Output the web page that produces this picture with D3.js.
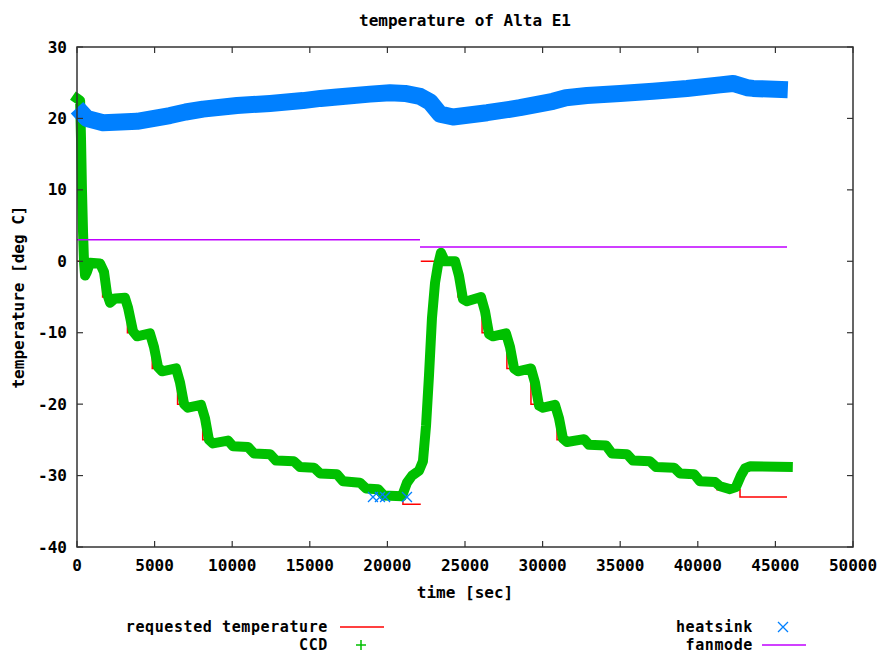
<!DOCTYPE html>
<html>
<head>
<meta charset="utf-8">
<script src="https://cdn.jsdelivr.net/npm/d3@7"></script>
<style>
  body { margin: 0; background: #fff; }
  text { font-family: "DejaVu Sans Mono", monospace; font-weight: bold; font-size: 16px; fill: #000; }
  .legend text { font-size: 15px; letter-spacing: 0.6px; }
</style>
</head>
<body>
<div id="chart"></div>
<script>
// requested temperature (step function, NaN breaks the line between runs)
const reqTime = [0, 1650, 3250, 4850, 6480, 8100, 9860, 11150, 12630, 14175, 15460, 16950, 18430, 19520, 21000, 22150,
                 NaN,
                 22150, 24550, 26100, 27700, 29250, 30930, 32860, 34340, 35630, 37110, 38660, 39950, 41240, 42720, 45750];
const reqTemp = [0, -5, -10, -15, -20, -25, -26, -27, -28, -29, -30, -31, -32, -33, -34, -34,
                 NaN,
                 0, -5, -10, -15, -20, -25, -26, -27, -28, -29, -30, -31, -32, -33, -33];

// CCD temperature
const ccdTime = [0, 200, 260, 320, 390, 450, 520, 640, 840, 1480, 1740, 1930, 2130, 2450, 3090, 3290, 3610, 3870,
                 4700, 4960, 5220, 5480, 6380, 6640, 6900, 7150, 7990, 8250, 8500, 8760, 9730, 10050, 11020, 11400,
                 12440, 12820, 13980, 14370, 15270, 15660, 16750, 17140, 18230, 18620, 19400, 19780, 20940, 21260,
                 21590, 22040, 22290, 22490, 22680, 22870, 23070, 23260, 23450, 23710, 24360, 24610, 24870, 25130,
                 26030, 26290, 26550, 26800, 27640, 27900, 28160, 28410, 29250, 29510, 29770, 30030, 30800, 31060,
                 31310, 31570, 32670, 32990, 34090, 34470, 35440, 35820, 36920, 37310, 38470, 38850, 39760, 40140,
                 41110, 41430, 42070, 42460, 42780, 43040, 43360, 45800];
const ccdTemp = [22.8, 22.5, 17, 10, 4, 0, -2, -1.5, -0.2, -0.3, -1.5, -4.5, -5.8, -5.2, -5.1, -6.5, -9.8, -10.5,
                 -10.1, -12, -14.8, -15.4, -15, -17, -20, -20.5, -20.1, -22, -25, -25.5, -25.1, -25.9, -26, -26.9,
                 -27, -27.9, -28, -28.8, -28.9, -29.7, -29.8, -30.8, -31, -31.8, -31.9, -32.8, -32.9, -31,
                 -30, -29.3, -28, -23, -16, -8, -3, -0.5, 1.2, 0, 0, -2, -5.3, -5.6,
                 -5, -7, -10.2, -10.5, -10.1, -12, -15, -15.4, -15, -17, -20.2, -20.5, -20.1, -22,
                 -24.8, -25.3, -24.9, -25.7, -25.8, -26.9, -27, -27.9, -28, -28.8, -28.9, -29.7, -29.8, -30.8,
                 -30.9, -31.5, -31.9, -31.6, -30, -29, -28.7, -28.8];

// heatsink temperature
const heatTime = [0, 640, 1680, 2800, 3870, 5990, 7000, 8120, 10310, 12440, 14560, 15700, 16750, 18880, 20170, 21130, 22100, 22750,
                  23390, 24230, 26420, 28540, 30670, 31500, 32860, 34990, 37110, 39300, 41430, 42270, 43170, 43560, 45800];
const heatTemp = [21.5, 20.0, 19.4, 19.5, 19.6, 20.4, 20.9, 21.3, 21.8, 22.1, 22.5, 22.8, 23.0, 23.4, 23.6, 23.5, 23.1, 22.3,
                  20.6, 20.2, 20.8, 21.5, 22.4, 22.9, 23.2, 23.5, 23.8, 24.2, 24.7, 24.9, 24.3, 24.2, 24.0];
// stray heatsink readings near the bottom
const heatOutTime = [19070, 19520, 19850, 21260];
const heatOutTemp = [-33, -33, -33, -33];

// fanmode
const fanTime = [0, 22100, NaN, 22100, 45750];
const fanTemp = [3, 3, NaN, 2, 2];

const xTicks = d3.range(0, 50001, 5000);
const yTicks = d3.range(-40, 31, 10);

const W = 884, H = 655;
const margin = { top: 47, right: 31, bottom: 108, left: 77 };
const width = W - margin.left - margin.right;
const height = H - margin.top - margin.bottom;

const svg = d3.select("#chart").append("svg")
    .attr("width", W)
    .attr("height", H);

const g = svg.append("g")
    .attr("transform", "translate(" + margin.left + "," + margin.top + ")");

const x = d3.scaleLinear().domain([0, 50000]).range([0, width]);
const y = d3.scaleLinear().domain([-40, 30]).range([height, 0]);

const zip = (ts, vs) => ts.map((t, i) => ({ t: t, v: vs[i] }));

const line = d3.line()
    .defined(d => !isNaN(d.t))
    .x(d => x(d.t))
    .y(d => y(d.v));

// requested temperature
g.append("path")
    .datum(zip(reqTime, reqTemp))
    .attr("fill", "none")
    .attr("stroke", "#ff0000")
    .attr("stroke-width", 1.5)
    .attr("d", line.curve(d3.curveStepAfter));

line.curve(d3.curveLinear);

// CCD
g.append("path")
    .datum(zip(ccdTime, ccdTemp))
    .attr("fill", "none")
    .attr("stroke", "#00c000")
    .attr("stroke-width", 10)
    .attr("stroke-linejoin", "round")
    .attr("stroke-linecap", "square")
    .attr("d", line);

// heatsink
g.append("path")
    .datum(zip(heatTime, heatTemp))
    .attr("fill", "none")
    .attr("stroke", "#0080ff")
    .attr("stroke-width", 17)
    .attr("stroke-linejoin", "round")
    .attr("stroke-linecap", "butt")
    .attr("d", line);

const cross = (sel, s) => sel.attr("d", "M" + (-s) + "," + (-s) + "L" + s + "," + s + "M" + (-s) + "," + s + "L" + s + "," + (-s));

g.selectAll(".heatOut")
    .data(zip(heatOutTime, heatOutTemp))
    .join("path")
    .attr("class", "heatOut")
    .attr("transform", d => "translate(" + x(d.t) + "," + y(d.v) + ")")
    .attr("fill", "none")
    .attr("stroke", "#0080ff")
    .attr("stroke-width", 1.3)
    .call(cross, 5);

// fanmode
g.append("path")
    .datum(zip(fanTime, fanTemp))
    .attr("fill", "none")
    .attr("stroke", "#c000ff")
    .attr("stroke-width", 1.5)
    .attr("d", line);

// border + ticks (mirrored, pointing inwards)
const tickLen = 6;
const axisColor = "#333";
g.append("rect")
    .attr("width", width).attr("height", height)
    .attr("fill", "none").attr("stroke", axisColor).attr("stroke-width", 1.5);

xTicks.forEach(t => {
    g.append("line").attr("x1", x(t)).attr("x2", x(t)).attr("y1", height).attr("y2", height - tickLen)
        .attr("stroke", axisColor).attr("stroke-width", 1.2);
    g.append("line").attr("x1", x(t)).attr("x2", x(t)).attr("y1", 0).attr("y2", tickLen)
        .attr("stroke", axisColor).attr("stroke-width", 1.2);
    g.append("text").attr("x", x(t)).attr("y", height + 18).attr("dy", "0.35em")
        .attr("text-anchor", "middle").text(t);
});

yTicks.forEach(v => {
    g.append("line").attr("x1", 0).attr("x2", tickLen).attr("y1", y(v)).attr("y2", y(v))
        .attr("stroke", axisColor).attr("stroke-width", 1.2);
    g.append("line").attr("x1", width).attr("x2", width - tickLen).attr("y1", y(v)).attr("y2", y(v))
        .attr("stroke", axisColor).attr("stroke-width", 1.2);
    g.append("text").attr("x", -10).attr("y", y(v)).attr("dy", "0.35em")
        .attr("text-anchor", "end").text(v);
});

// titles
svg.append("text").attr("x", margin.left + width / 2).attr("y", 20).attr("dy", "0.35em")
    .attr("text-anchor", "middle").text("temperature of Alta E1");
svg.append("text").attr("x", margin.left + width / 2).attr("y", 592).attr("dy", "0.35em")
    .attr("text-anchor", "middle").text("time [sec]");
svg.append("text").attr("transform", "translate(18," + (margin.top + height / 2) + ") rotate(-90)")
    .attr("dy", "0.35em").attr("text-anchor", "middle").text("temperature [deg C]");

// legend
const leg = svg.append("g").attr("class", "legend");
const row1 = 627, row2 = 645;
leg.append("text").attr("x", 328).attr("y", row1).attr("dy", "0.35em").attr("text-anchor", "end").text("requested temperature");
leg.append("line").attr("x1", 340).attr("x2", 384).attr("y1", row1).attr("y2", row1).attr("stroke", "#ff0000").attr("stroke-width", 1.5);
leg.append("text").attr("x", 328).attr("y", row2).attr("dy", "0.35em").attr("text-anchor", "end").text("CCD");
leg.append("path").attr("transform", "translate(361," + row2 + ")").attr("fill", "none").attr("stroke", "#00c000").attr("stroke-width", 1.5)
    .attr("d", "M-5,0L5,0M0,-5L0,5");
leg.append("text").attr("x", 753).attr("y", row1).attr("dy", "0.35em").attr("text-anchor", "end").text("heatsink");
leg.append("path").attr("transform", "translate(783," + row1 + ")").attr("fill", "none").attr("stroke", "#0080ff").attr("stroke-width", 1.3)
    .call(cross, 5);
leg.append("text").attr("x", 753).attr("y", row2).attr("dy", "0.35em").attr("text-anchor", "end").text("fanmode");
leg.append("line").attr("x1", 762).attr("x2", 806).attr("y1", row2).attr("y2", row2).attr("stroke", "#c000ff").attr("stroke-width", 1.5);
</script>
</body>
</html>
